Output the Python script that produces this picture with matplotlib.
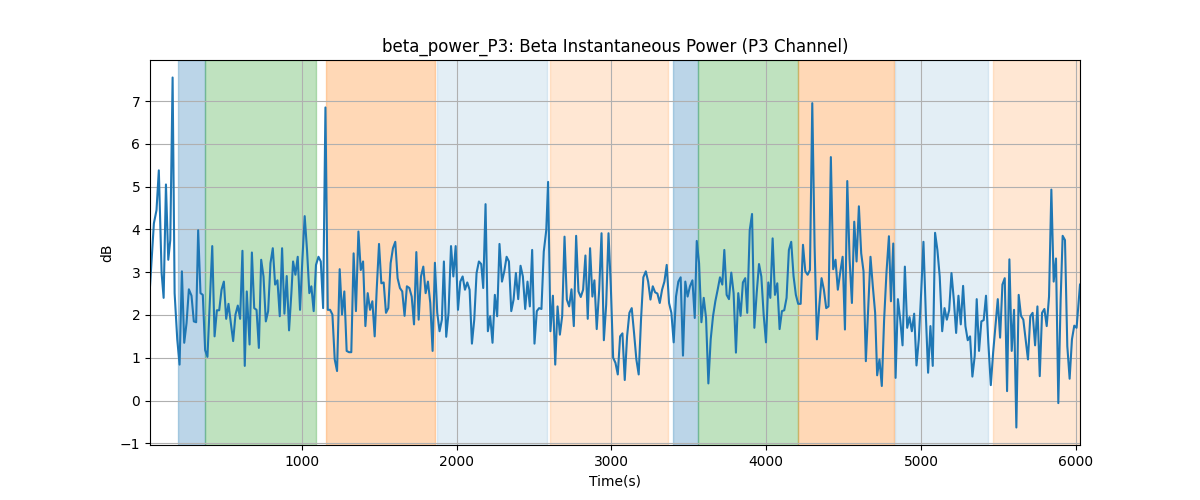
import numpy as np
import matplotlib
matplotlib.use('Agg')
import matplotlib.pyplot as plt

# time stamps (s) and beta power (dB)
t_s = [20, 45, 62, 77, 95, 108, 123, 138, 151, 166, 179, 196, 211, 226, 241, 256, 271, 288, 303, 318,
       331, 346, 361, 376, 391, 422, 437, 452, 467, 482, 497, 512, 527, 542, 557, 572, 587, 602, 617, 632,
       645, 663, 678, 693, 708, 723, 738, 753, 768, 783, 798, 813, 828, 843, 858, 873, 888, 903, 918, 933,
       944, 959, 974, 989, 1004, 1019, 1034, 1049, 1062, 1077, 1092, 1108, 1123, 1138, 1153, 1168, 1183, 1198, 1213, 1228,
       1245, 1260, 1275, 1290, 1305, 1320, 1335, 1350, 1366, 1381, 1396, 1411, 1426, 1441, 1456, 1471, 1484, 1499, 1514, 1529,
       1544, 1559, 1574, 1589, 1604, 1619, 1634, 1649, 1664, 1679, 1695, 1710, 1725, 1740, 1755, 1770, 1785, 1800, 1815, 1830,
       1845, 1860, 1875, 1890, 1905, 1918, 1933, 1948, 1964, 1979, 1994, 2009, 2024, 2039, 2054, 2069, 2084, 2099, 2114, 2129,
       2144, 2159, 2172, 2187, 2202, 2217, 2232, 2247, 2262, 2277, 2293, 2308, 2323, 2338, 2353, 2368, 2383, 2398, 2413, 2428,
       2443, 2458, 2473, 2488, 2503, 2518, 2533, 2548, 2563, 2579, 2591, 2606, 2622, 2637, 2652, 2667, 2682, 2697, 2712, 2727,
       2742, 2757, 2772, 2787, 2802, 2817, 2832, 2847, 2862, 2877, 2890, 2905, 2921, 2936, 2951, 2966, 2981, 2996, 3011, 3026,
       3041, 3056, 3071, 3086, 3101, 3116, 3131, 3146, 3161, 3176, 3191, 3206, 3222, 3237, 3252, 3267, 3282, 3297, 3312, 3327,
       3342, 3357, 3372, 3387, 3402, 3417, 3432, 3447, 3462, 3477, 3492, 3507, 3523, 3538, 3551, 3566, 3581, 3596, 3611, 3626,
       3641, 3656, 3671, 3686, 3701, 3716, 3729, 3744, 3759, 3774, 3789, 3804, 3819, 3834, 3849, 3864, 3877, 3893, 3908, 3923,
       3938, 3953, 3968, 3983, 3998, 4013, 4026, 4041, 4056, 4071, 4086, 4101, 4116, 4131, 4146, 4161, 4176, 4191, 4206, 4222,
       4237, 4252, 4267, 4282, 4297, 4312, 4327, 4342, 4357, 4372, 4387, 4402, 4417, 4432, 4447, 4462, 4477, 4493, 4508, 4523,
       4538, 4553, 4568, 4583, 4598, 4613, 4628, 4643, 4658, 4673, 4688, 4703, 4716, 4731, 4746, 4761, 4776, 4792, 4805, 4820,
       4835, 4850, 4865, 4880, 4895, 4910, 4925, 4940, 4955, 4970, 4985, 5000, 5015, 5030, 5045, 5060, 5075, 5090, 5105, 5120,
       5136, 5151, 5166, 5181, 5196, 5211, 5226, 5241, 5256, 5271, 5286, 5301, 5316, 5331, 5346, 5359, 5374, 5389, 5404, 5419,
       5434, 5450, 5465, 5480, 5495, 5510, 5525, 5540, 5555, 5570, 5585, 5600, 5615, 5630, 5645, 5660, 5675, 5690, 5705, 5720,
       5736, 5751, 5766, 5781, 5796, 5811, 5826, 5841, 5856, 5871, 5886, 5901, 5914, 5929, 5944, 5959, 5974, 5989, 6004, 6026]

power_db = [2.67, 4.14, 4.45, 5.38, 2.98, 2.40, 5.05, 3.29, 3.75, 7.55, 2.51, 1.43, 0.84, 3.02, 1.35, 1.81, 2.60, 2.45, 1.85, 1.83,
            3.98, 2.51, 2.47, 1.18, 1.02, 3.61, 1.50, 2.11, 2.11, 2.59, 2.78, 1.91, 2.26, 1.81, 1.39, 2.01, 2.22, 1.91, 3.50, 0.81,
            2.55, 1.31, 3.46, 2.16, 2.12, 1.23, 3.29, 2.90, 1.85, 2.09, 3.21, 3.56, 2.71, 2.81, 1.97, 3.56, 2.03, 2.91, 1.64, 2.51,
            3.25, 2.94, 3.36, 2.12, 3.29, 4.31, 3.52, 2.51, 2.67, 2.09, 3.17, 3.36, 3.25, 2.16, 6.85, 2.12, 2.12, 2.01, 0.96, 0.69,
            3.07, 2.01, 2.55, 1.16, 1.13, 1.13, 3.44, 2.09, 3.95, 3.05, 3.25, 1.74, 2.51, 2.12, 2.32, 1.50, 2.59, 3.66, 2.74, 2.76,
            2.05, 2.16, 3.21, 3.56, 3.71, 2.86, 2.63, 2.55, 1.98, 2.67, 2.63, 2.43, 1.78, 3.47, 1.89, 2.90, 3.13, 2.51, 2.78, 2.28,
            1.16, 3.22, 2.05, 1.62, 1.89, 3.25, 1.49, 2.05, 3.61, 2.90, 3.61, 2.12, 2.78, 2.90, 2.59, 2.76, 2.59, 1.33, 1.89, 2.98,
            3.25, 3.19, 2.63, 4.59, 1.62, 1.97, 1.35, 2.47, 1.97, 3.66, 2.78, 3.02, 3.36, 3.25, 2.09, 2.36, 2.98, 2.37, 3.15, 2.90,
            2.14, 2.78, 2.20, 3.52, 1.33, 2.09, 2.16, 2.14, 3.48, 3.98, 5.11, 1.62, 2.45, 0.84, 2.20, 1.54, 1.98, 3.83, 2.36, 2.20,
            2.60, 1.74, 3.85, 2.55, 2.42, 2.59, 3.39, 1.91, 3.56, 2.43, 2.81, 1.67, 2.60, 3.91, 1.41, 2.24, 3.91, 2.67, 1.00, 0.88,
            0.61, 1.50, 1.57, 0.48, 1.50, 2.05, 2.16, 1.58, 0.96, 0.61, 1.89, 2.88, 3.02, 2.78, 2.36, 2.67, 2.53, 2.50, 2.28, 2.59,
            2.78, 3.17, 2.28, 2.05, 1.36, 2.43, 2.78, 2.88, 1.05, 2.78, 2.43, 2.67, 2.81, 1.93, 3.73, 3.21, 1.83, 2.40, 1.93, 0.40,
            1.43, 1.97, 2.32, 2.59, 2.88, 2.71, 3.52, 2.47, 2.37, 2.99, 2.51, 1.12, 2.51, 1.98, 2.76, 2.86, 2.05, 3.98, 4.36, 1.70,
            2.51, 3.19, 2.90, 2.01, 1.36, 2.76, 2.40, 3.79, 2.47, 2.74, 1.67, 2.09, 2.11, 2.40, 3.52, 3.71, 2.91, 2.47, 2.26, 2.26,
            3.64, 3.02, 2.94, 3.05, 6.95, 3.60, 1.43, 2.20, 2.86, 2.59, 2.16, 2.20, 5.69, 3.07, 3.29, 2.59, 2.98, 3.36, 1.66, 5.13,
            3.29, 2.28, 4.18, 3.25, 4.54, 3.44, 3.02, 0.92, 2.12, 3.36, 2.67, 2.05, 0.59, 0.96, 0.34, 1.89, 2.98, 3.84, 2.32, 3.67,
            0.53, 2.37, 1.89, 1.29, 3.13, 1.70, 1.95, 1.62, 2.03, 0.82, 1.43, 2.51, 3.71, 2.05, 0.65, 1.74, 0.81, 3.92, 3.52, 2.90,
            1.62, 2.16, 1.89, 2.11, 2.98, 2.36, 1.58, 2.45, 1.78, 2.68, 1.74, 1.41, 1.50, 0.56, 1.04, 2.37, 1.16, 1.85, 1.88, 2.45,
            1.35, 0.36, 1.12, 1.74, 2.37, 1.47, 2.71, 2.86, 0.22, 3.30, 1.16, 2.12, -0.63, 2.47, 1.98, 1.89, 1.43, 0.96, 1.97, 2.05,
            1.29, 2.20, 0.57, 2.05, 2.14, 1.74, 2.43, 4.93, 2.78, 3.32, -0.06, 2.36, 3.85, 3.75, 1.27, 0.51, 1.43, 1.75, 1.70, 2.71]

# shaded task segments: (start, end, colour, alpha)
seg_start = [200, 374, 1159, 1875, 2600, 3400, 3561, 4206, 4830, 5465]
seg_end = [374, 1095, 1858, 2583, 3368, 3561, 4202, 4826, 5434, 6026]
seg_color = ['tab:blue', 'tab:green', 'tab:orange', 'tab:blue', 'tab:orange',
             'tab:blue', 'tab:green', 'tab:orange', 'tab:blue', 'tab:orange']
seg_alpha = [0.3, 0.3, 0.3, 0.12, 0.18, 0.3, 0.3, 0.3, 0.12, 0.18]


def main():
    fig, ax = plt.subplots(figsize=(12, 5), dpi=100)
    for s, e, c, a in zip(seg_start, seg_end, seg_color, seg_alpha):
        ax.axvspan(s, e, color=c, alpha=a)
    ax.plot(np.array(t_s), np.array(power_db), color='tab:blue', linewidth=1.5)
    ax.set_xlim(t_s[0], t_s[-1])
    ax.set_title('beta_power_P3: Beta Instantaneous Power (P3 Channel)')
    ax.set_xlabel('Time(s)')
    ax.set_ylabel('dB')
    ax.grid(True)
    plt.savefig('out.png')


if __name__ == '__main__':
    main()
